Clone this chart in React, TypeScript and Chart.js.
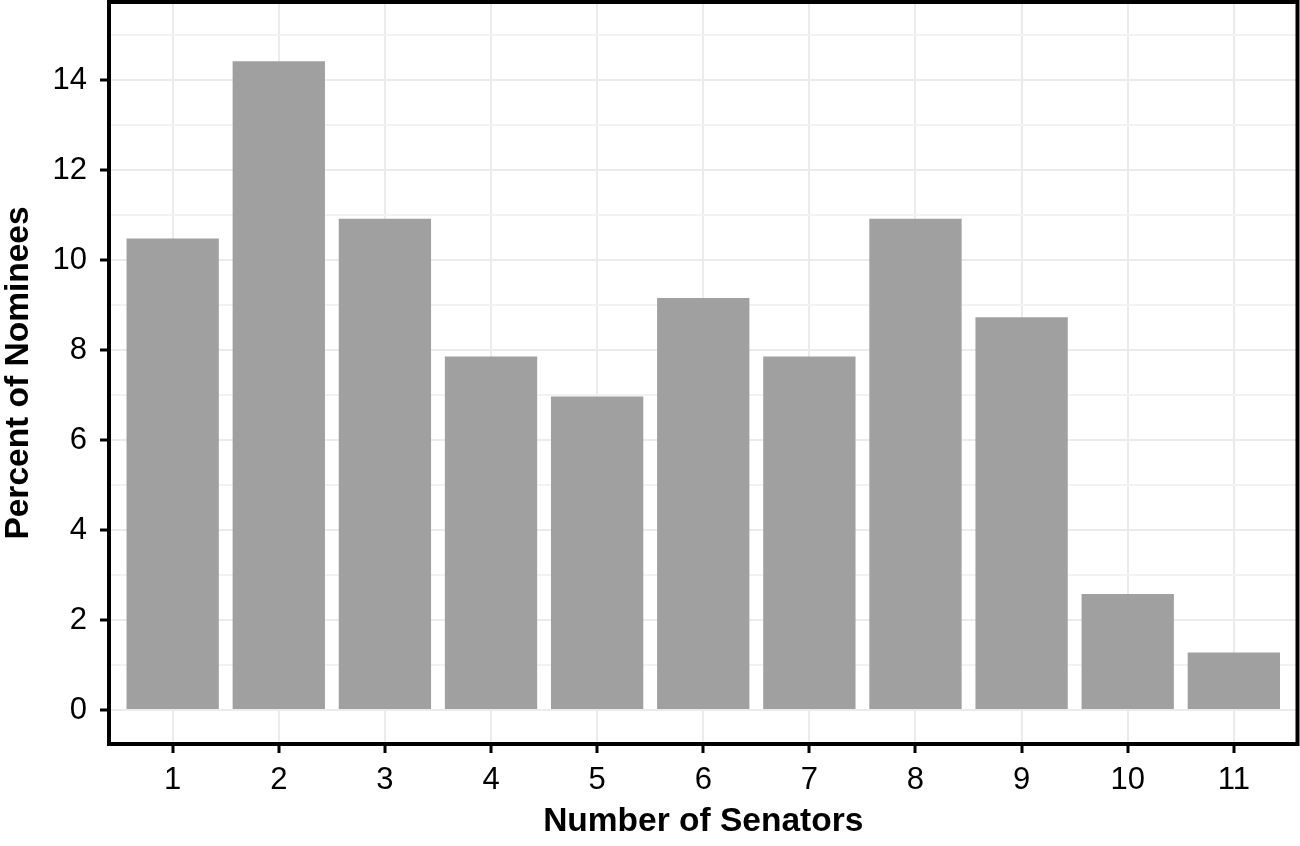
import React, { useEffect, useRef } from "react";
import { Chart, registerables } from "chart.js";

Chart.register(...registerables);

const senators = [1, 2, 3, 4, 5, 6, 7, 8, 9, 10, 11];
const percentNominees = [10.48, 14.42, 10.92, 7.86, 6.97, 9.16, 7.86, 10.92, 8.73, 2.58, 1.28];
const yTickValues = [0, 1, 2, 3, 4, 5, 6, 7, 8, 9, 10, 11, 12, 13, 14, 15];
const yLabelled = [0, 2, 4, 6, 8, 10, 12, 14];
const xTitle = "Number of Senators";
const yTitle = "Percent of Nominees";

const FONT = "'Liberation Sans', Arial, Helvetica, sans-serif";

const panelBorder = {
  id: "panelBorder",
  afterDraw(chart: any) {
    const { ctx, chartArea } = chart;
    ctx.save();
    ctx.strokeStyle = "#000";
    ctx.lineWidth = 4;
    ctx.strokeRect(chartArea.left, chartArea.top, chartArea.right - chartArea.left, chartArea.bottom - chartArea.top);
    ctx.restore();
  },
};

export default function App() {
  const ref = useRef<HTMLCanvasElement>(null);
  useEffect(() => {
    if (!ref.current) return;
    const chart = new Chart(ref.current, {
      type: "bar",
      data: {
        datasets: [
          {
            data: senators.map((s, i) => ({ x: s, y: percentNominees[i] })),
            backgroundColor: "rgb(160,160,160)",
            borderWidth: 0,
            barPercentage: 0.87,
            categoryPercentage: 1,
          },
        ],
      },
      plugins: [panelBorder],
      options: {
        animation: false,
        responsive: false,
        devicePixelRatio: 1,
        layout: { padding: { top: 2, right: 2.5, left: 0, bottom: 0 } },
        plugins: { legend: { display: false }, tooltip: { enabled: false } },
        scales: {
          x: {
            type: "linear",
            offset: false,
            min: 0.4,
            max: 11.6,
            afterBuildTicks: (scale: any) => {
              scale.ticks = senators.map((v) => ({ value: v }));
            },
            afterFit: (scale: any) => {
              scale.height = 102;
              scale.paddingLeft = 0;
              scale.paddingRight = 0;
            },
            border: { display: false },
            grid: {
              offset: false,
              color: "#EBEBEB",
              lineWidth: 2,
              tickColor: "#000",
              tickWidth: 3,
              tickLength: 9,
            },
            ticks: {
              autoSkip: false,
              maxRotation: 0,
              padding: 9,
              color: "#000",
              font: { family: FONT, size: 31 },
              callback: (v: any) => String(v),
            },
            title: {
              display: true,
              text: xTitle,
              color: "#000",
              font: { family: FONT, size: 33.5, weight: "bold", lineHeight: 1.1 },
              padding: { top: 0, bottom: 6 },
            },
          },
          y: {
            type: "linear",
            min: -0.756,
            max: 15.74,
            afterBuildTicks: (scale: any) => {
              scale.ticks = yTickValues.map((v) => ({ value: v }));
            },
            afterFit: (scale: any) => {
              scale.width = 109;
              scale.paddingTop = 0;
              scale.paddingBottom = 0;
            },
            border: { display: false },
            grid: {
              color: (c: any) => (yLabelled.includes(c.tick?.value) ? "#EBEBEB" : "#F2F2F2"),
              lineWidth: 2,
              tickColor: (c: any) => (yLabelled.includes(c.tick?.value) ? "#000" : "rgba(0,0,0,0)"),
              tickWidth: 3,
              tickLength: 9,
            },
            ticks: {
              autoSkip: false,
              padding: 13,
              color: "#000",
              font: { family: FONT, size: 31 },
              callback: (v: any) => (yLabelled.includes(v) ? String(v) : ""),
            },
            title: {
              display: true,
              text: yTitle,
              color: "#000",
              font: { family: FONT, size: 33.5, weight: "bold", lineHeight: 1.1 },
              padding: { top: 0, bottom: 0 },
            },
          },
        },
      },
    } as any);
    return () => chart.destroy();
  }, []);
  return (
    <div style={{ position: "absolute", left: 0, top: 0, width: 1300, height: 846, background: "#fff" }}>
      <canvas ref={ref} width={1300} height={846} />
    </div>
  );
}
